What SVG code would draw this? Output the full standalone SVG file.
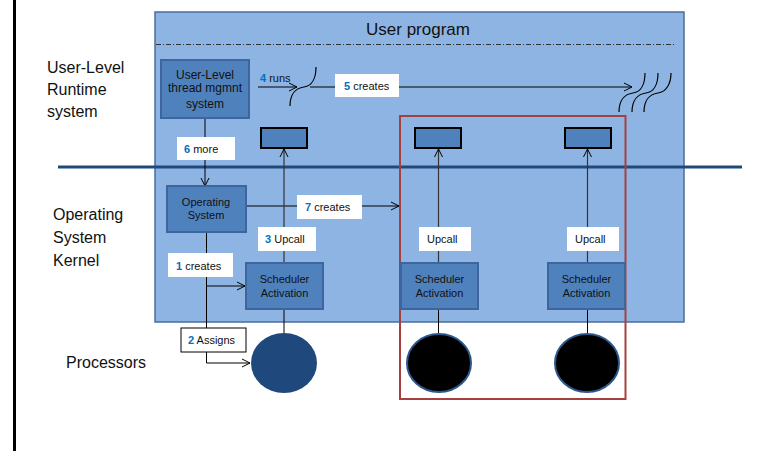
<svg xmlns="http://www.w3.org/2000/svg" width="768" height="451" viewBox="0 0 768 451">
<defs>
<marker id="arr" markerUnits="userSpaceOnUse" markerWidth="12" markerHeight="12" refX="9" refY="5" orient="auto">
<path d="M1,1 L9,5 L1,9" fill="none" stroke="#000" stroke-width="1"/>
</marker>
</defs>
<style>
text{font-family:"Liberation Sans",Arial,sans-serif;fill:#111;}
.side{font-size:16px;}
.box{fill:#4F81BD;stroke:#3D679C;stroke-width:2;}
.bt{font-size:11px;text-anchor:middle;}
.bt12{font-size:12px;text-anchor:middle;}
.lbl{fill:#fff;}
.lt{font-size:11px;}
.num{fill:#0070C0;font-weight:bold;}
.small{fill:#4F81BD;stroke:#000;stroke-width:2;}
.c{stroke:#000;stroke-width:1;fill:none;}
.cv{stroke:#333;stroke-width:1.2;fill:none;}
.sq{stroke:#000;stroke-width:1.2;fill:none;}
</style>
<rect width="768" height="451" fill="#fff"/>
<line x1="14.5" y1="0" x2="14.5" y2="451" stroke="#000" stroke-width="3"/>

<g id="user-program">
<rect x="155" y="12" width="529" height="310" fill="#8EB4E3" stroke="#4A6D9E" stroke-width="1.5"/>
<text x="418" y="35" font-size="17" text-anchor="middle">User program</text>
<line x1="156" y1="44.5" x2="676" y2="44.5" stroke="#333" stroke-width="1" stroke-dasharray="5,2,1,2"/>
</g>

<g id="divider">
<line x1="58" y1="167" x2="742" y2="167" stroke="#1F497D" stroke-width="3"/>
</g>

<g id="side-labels">
<text class="side" x="47" y="73">User-Level</text>
<text class="side" x="47" y="95">Runtime</text>
<text class="side" x="47" y="117">system</text>
<text class="side" x="53" y="220">Operating</text>
<text class="side" x="53" y="243">System</text>
<text class="side" x="53" y="266">Kernel</text>
<text class="side" x="66" y="368">Processors</text>
</g>

<g id="red-group">
<rect x="400" y="116" width="225.5" height="283" fill="none" stroke="#A5403E" stroke-width="2"/>
</g>

<g id="connectors">
<line class="c" x1="205" y1="119" x2="205" y2="186" marker-end="url(#arr)"/>
<line class="c" x1="246" y1="206" x2="399" y2="206" marker-end="url(#arr)"/>
<polyline class="c" points="206.5,232 206.5,363 250,363" marker-end="url(#arr)"/>
<line class="c" x1="206.5" y1="286" x2="245" y2="286" marker-end="url(#arr)"/>
<line class="cv" x1="284" y1="263" x2="284" y2="149" marker-end="url(#arr)"/>
<line class="cv" x1="438.5" y1="263" x2="438.5" y2="149" marker-end="url(#arr)"/>
<line class="cv" x1="587.5" y1="263" x2="587.5" y2="149" marker-end="url(#arr)"/>
<line class="c" x1="284" y1="309" x2="284" y2="333"/>
<line class="c" x1="438.5" y1="309" x2="438.5" y2="333"/>
<line class="c" x1="587.5" y1="309" x2="587.5" y2="333"/>
<line class="c" x1="258" y1="87" x2="297" y2="87" marker-end="url(#arr)"/>
<line class="c" x1="310" y1="87" x2="632" y2="87" marker-end="url(#arr)"/>
<path class="sq" d="M290,106 C290,94 296,88 304,87 C312,86 316,78 316,67"/>
<path class="sq" d="M619,112 C619,100 625,94 633,93 C641,92 645,84 645,73"/>
<path class="sq" d="M632,112 C632,100 638,94 646,93 C654,92 658,84 658,73"/>
<path class="sq" d="M644,112 C644,100 650,94 658,93 C666,92 671,84 671,73"/>
</g>

<g id="labels">
<text class="lt" x="260" y="82"><tspan class="num">4</tspan> runs</text>
<rect class="lbl" x="335" y="74" width="64" height="23"/>
<text class="lt" x="344" y="90"><tspan class="num">5</tspan> creates</text>
<rect class="lbl" x="177" y="137" width="58" height="23"/>
<text class="lt" x="184" y="153"><tspan class="num">6</tspan> more</text>
<rect class="lbl" x="297" y="195" width="65" height="24"/>
<text class="lt" x="305" y="211"><tspan class="num">7</tspan> creates</text>
<rect class="lbl" x="258" y="227" width="58" height="24"/>
<text class="lt" x="265" y="243"><tspan class="num">3</tspan> Upcall</text>
<rect class="lbl" x="168" y="253" width="65" height="24"/>
<text class="lt" x="176" y="270"><tspan class="num">1</tspan> creates</text>
<rect class="lbl" x="419" y="227" width="52" height="24"/>
<text class="lt" x="427" y="243">Upcall</text>
<rect class="lbl" x="567" y="227" width="52" height="24"/>
<text class="lt" x="575" y="243">Upcall</text>
<rect x="181" y="328" width="65" height="24" fill="#fff" stroke="#000" stroke-width="1"/>
<text class="lt" x="188" y="344"><tspan class="num">2</tspan> Assigns</text>
</g>

<g id="ult-system">
<rect class="box" x="161" y="60" width="88" height="58"/>
<text class="bt12" x="205" y="79">User-Level</text>
<text class="bt12" x="205" y="92">thread mgmnt</text>
<text class="bt12" x="205" y="108">system</text>
</g>

<g id="operating-system">
<rect class="box" x="167" y="186" width="79" height="46"/>
<text class="bt" x="206" y="206">Operating</text>
<text class="bt" x="206" y="219">System</text>
</g>

<g id="sa1">
<rect class="box" x="246" y="263" width="77" height="46"/>
<text class="bt" x="284.5" y="283">Scheduler</text>
<text class="bt" x="284.5" y="297">Activation</text>
</g>
<g id="sa2">
<rect class="box" x="401" y="263" width="77" height="46"/>
<text class="bt" x="439.5" y="283">Scheduler</text>
<text class="bt" x="439.5" y="297">Activation</text>
</g>
<g id="sa3">
<rect class="box" x="548" y="263" width="77" height="46"/>
<text class="bt" x="586.5" y="283">Scheduler</text>
<text class="bt" x="586.5" y="297">Activation</text>
</g>

<g id="thread1"><rect class="small" x="261" y="128" width="46" height="20"/></g>
<g id="thread2"><rect class="small" x="415" y="128" width="46" height="20"/></g>
<g id="thread3"><rect class="small" x="565" y="128" width="46" height="20"/></g>

<g id="cpu1"><ellipse cx="284" cy="363" rx="33" ry="30" fill="#1F497D"/></g>
<g id="cpu2"><ellipse cx="439" cy="363" rx="32" ry="29" fill="#000" stroke="#2B578C" stroke-width="2"/></g>
<g id="cpu3"><ellipse cx="587" cy="363" rx="32" ry="29" fill="#000" stroke="#2B578C" stroke-width="2"/></g>
</svg>
